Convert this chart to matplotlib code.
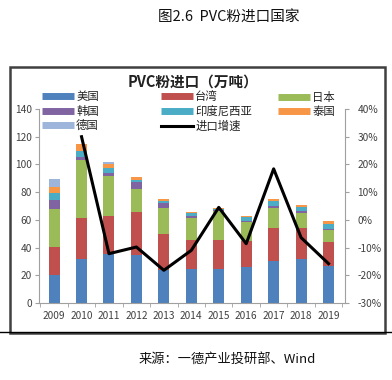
import matplotlib
matplotlib.use("Agg")
import matplotlib.pyplot as plt
from matplotlib.lines import Line2D
from matplotlib.patches import Rectangle
import numpy as np

plt.rcParams['font.family'] = ['Noto Sans CJK SC', 'DejaVu Sans']

years = ['2009', '2010', '2011', '2012', '2013', '2014', '2015', '2016', '2017', '2018', '2019']
usa = [20.0, 32.0, 35.7, 34.5, 24.0, 24.2, 24.2, 25.7, 30.0, 31.4, 26.6]
taiwan = [20.7, 29.0, 27.0, 31.2, 26.0, 21.1, 21.3, 18.7, 24.4, 23.0, 17.5]
japan = [27.4, 42.4, 29.0, 16.8, 18.5, 15.7, 21.0, 14.4, 14.4, 10.8, 8.9]
korea = [6.5, 2.0, 2.2, 4.8, 3.6, 2.0, 0.6, 0.6, 1.0, 1.0, 0.5]
indonesia = [4.8, 4.3, 3.5, 1.7, 1.7, 2.0, 1.0, 3.0, 3.5, 3.0, 3.8]
thailand = [4.1, 5.3, 3.0, 2.2, 1.2, 1.0, 0.8, 0.5, 1.5, 1.7, 2.2]
germany = [6.2, 0.0, 1.5, 0.0, 0.0, 0.0, 0.0, 0.0, 0.5, 0.0, 0.0]
growth_years = ['2010', '2011', '2012', '2013', '2014', '2015', '2016', '2017', '2018', '2019']
growth = [30.0, -12.2, -9.8, -18.2, -11.0, 4.5, -8.6, 18.4, -6.4, -15.8]

series = [('美国', usa, '#4F81BD'), ('台湾', taiwan, '#C0504D'), ('日本', japan, '#9BBB59'),
          ('韩国', korea, '#8064A2'), ('印度尼西亚', indonesia, '#4BACC6'),
          ('泰国', thailand, '#F79646'), ('德国', germany, '#9DB4DB')]

W, H = 392, 380
fig = plt.figure(figsize=(W / 100, H / 100), dpi=100)

def fx(px):
    return px / W

def fy(py):
    return 1 - py / H

ax = fig.add_axes([fx(39), fy(303), fx(345) - fx(39), fy(109) - fy(303)])
x = np.arange(len(years))
bottom = np.zeros(len(years))
handles = {}
for name, vals, col in series:
    v = np.array(vals)
    ax.bar(x, v, 0.4, bottom=bottom, color=col, zorder=2)
    bottom += v
    handles[name] = Line2D([], [], color=col, lw=5, solid_capstyle='butt')

ax.set_xlim(-0.55, 10.6)
ax.set_ylim(0, 140)
ax.set_yticks(range(0, 141, 20))
ax.set_xticks(x)
ax.set_xticklabels(years)
ax.set_xticks(np.arange(-0.5, 10.6, 1), minor=True)
ax.tick_params(axis='x', which='major', length=0, labelsize=7.3, colors='#404040', pad=6)
ax.tick_params(axis='x', which='minor', length=3, color='#A0A0A0')
ax.tick_params(axis='y', length=3, color='#A0A0A0', labelsize=7.3, labelcolor='#404040', pad=2)
for s in ['top', 'right']:
    ax.spines[s].set_visible(False)
for s in ['left', 'bottom']:
    ax.spines[s].set_color('#A0A0A0')
    ax.spines[s].set_linewidth(0.8)

ax2 = ax.twinx()
gx = [years.index(y) for y in growth_years]
ax2.plot(gx, growth, color='black', lw=2.2, zorder=3)
handles['进口增速'] = Line2D([], [], color='black', lw=2.2)
ax2.set_ylim(-30, 40)
ax2.set_yticks(range(-30, 41, 10))
ax2.set_yticklabels([f'{v}%' for v in range(-30, 41, 10)])
ax2.tick_params(axis='y', length=3, color='#A0A0A0', labelsize=7.3, labelcolor='#404040', pad=6)
for s in ['top', 'left', 'bottom']:
    ax2.spines[s].set_visible(False)
ax2.spines['right'].set_color('#A0A0A0')
ax2.spines['right'].set_linewidth(0.8)

columns = [(['美国', '韩国', '德国'], 42), (['台湾', '印度尼西亚', '进口增速'], 161), (['日本', '泰国'], 278)]
for names, px in columns:
    leg = fig.legend([handles[k] for k in names], names, loc='upper left',
                     bbox_to_anchor=(fx(px), fy(91.5)), frameon=False, fontsize=8.2,
                     handlelength=2.8, handletextpad=0.2, labelspacing=0.3,
                     borderaxespad=0, borderpad=0)
    for t in leg.get_texts():
        t.set_color('#222222')

fig.text(fx(193), fy(82), 'PVC粉进口（万吨）', ha='center', va='center',
         fontsize=10.5, fontweight='bold', color='#222222')

fig.text(fx(229), fy(18), '图2.6  PVC粉进口国家', ha='center', va='center',
         fontsize=10.5, color='#111111')
fig.text(fx(227), fy(360), '来源：一德产业投研部、Wind', ha='center', va='center',
         fontsize=9.5, color='#111111')

# chart frame and divider line
fig.add_artist(Line2D([0, 1], [fy(331.5), fy(331.5)], color='black', lw=1.0))
fig.add_artist(Rectangle((fx(10), fy(333)), fx(385) - fx(10), fy(67) - fy(333),
                         fill=False, edgecolor='#404040', lw=1.8))

fig.savefig('out.png', dpi=100)
